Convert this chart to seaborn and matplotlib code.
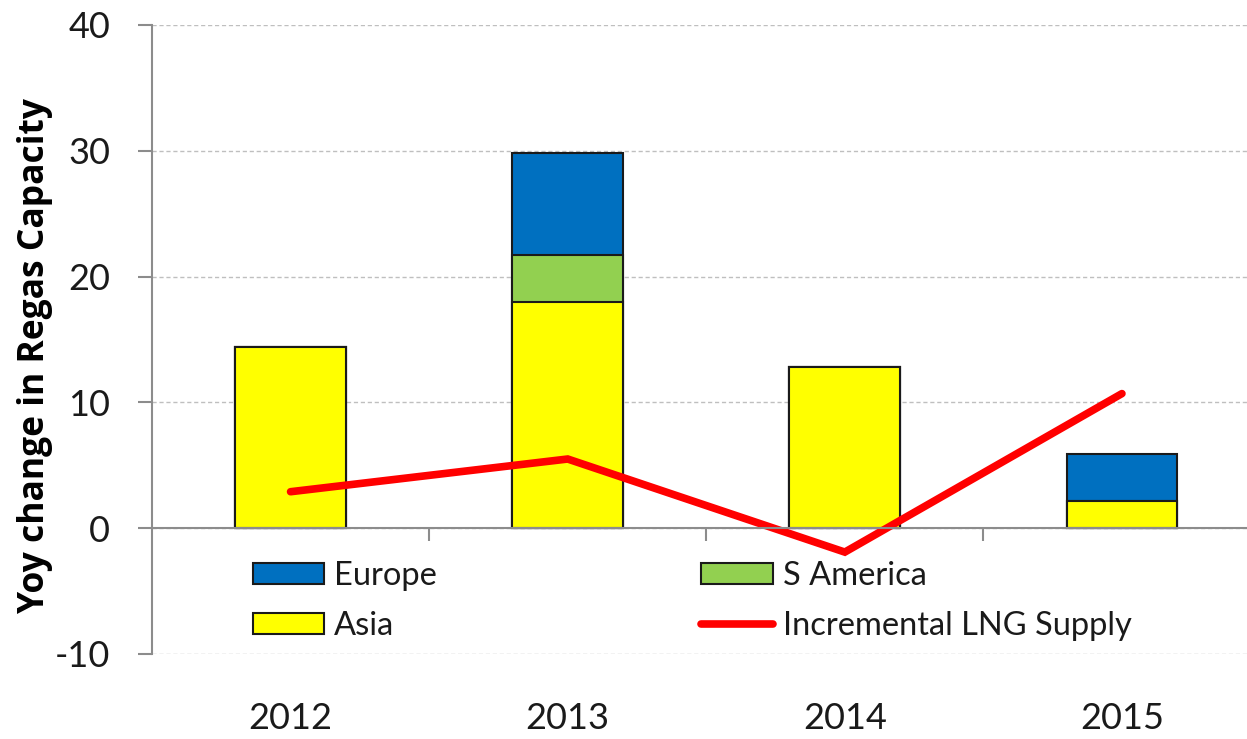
import numpy as np
import pandas as pd
import matplotlib
matplotlib.use("Agg")
import matplotlib.pyplot as plt
import seaborn as sns
from matplotlib.patches import Patch
from matplotlib.lines import Line2D

years = ["2012", "2013", "2014", "2015"]
asia = [14.4, 18.0, 12.8, 2.2]
s_america = [0.0, 3.7, 0.0, 0.0]
europe = [0.0, 8.1, 0.0, 3.7]
lng_supply = [2.9, 5.5, -1.9, 10.7]
yticks = [-10, 0, 10, 20, 30, 40]

c_europe = "#0070C0"
c_sam = "#92D050"
c_asia = "#FFFF00"
c_line = "#FF0000"

sns.set_style("white")
plt.rcParams['font.family'] = ['Lato', 'DejaVu Sans']

df = pd.DataFrame({"year": years, "asia": asia, "sam": s_america, "eur": europe, "lng": lng_supply})
df["lvl2"] = df["asia"] + df["sam"]
df["lvl3"] = df["lvl2"] + df["eur"]

fig = plt.figure(figsize=(12.47, 7.39), dpi=100)
ax = fig.add_axes([152/1247, 1-654/739, 1-152/1247, (654-25)/739])

edge = dict(edgecolor="#1a1a1a", linewidth=1.5)
sns.barplot(data=df, x="year", y="lvl3", color=c_europe, width=0.40, ax=ax, saturation=1, **edge)
sns.barplot(data=df, x="year", y="lvl2", color=c_sam, width=0.40, ax=ax, saturation=1, **edge)
sns.barplot(data=df, x="year", y="asia", color=c_asia, width=0.40, ax=ax, saturation=1, **edge)
sns.lineplot(x=np.arange(len(years)), y=df["lng"], color=c_line, linewidth=5.5, ax=ax,
             solid_capstyle="round", solid_joinstyle="miter")

ax.set_ylim(-10, 40)
ax.set_xlim(-0.5, 3 + (1247 - 1122) / 277)
ax.set_yticks(yticks)
ax.set_yticklabels([str(t) for t in yticks], fontsize=26, color="#1a1a1a")
ax.yaxis.grid(True, linestyle=(0, (3, 2)), color="#bfbfbf", linewidth=1)
ax.set_axisbelow(True)

for s in ["top", "right"]:
    ax.spines[s].set_visible(False)
ax.spines["left"].set_color("#8c8c8c")
ax.spines["left"].set_linewidth(1.5)
ax.spines["bottom"].set_position(("data", 0))
ax.spines["bottom"].set_color("#8c8c8c")
ax.spines["bottom"].set_linewidth(1.5)

ax.tick_params(axis="y", left=True, length=10, width=1.5, color="#8c8c8c", pad=20, direction="out")
ax.set_xticks(range(len(years)))
ax.set_xticklabels(years, fontsize=26, color="#1a1a1a")
ax.set_xticks([0.5, 1.5, 2.5], minor=True)
ax.tick_params(axis="x", which="major", bottom=True, length=0, pad=125)
ax.tick_params(axis="x", which="minor", bottom=True, length=9, width=1.5, color="#8c8c8c", direction="out")
ax.set_xlabel("")
ax.set_ylabel("Yoy change in Regas Capacity", fontsize=25.5, fontweight="bold", color="#000000",
              family=["Open Sans", "DejaVu Sans"])
ax.yaxis.set_label_coords(-0.090, 0.475)

handles = [
    Patch(facecolor=c_europe, edgecolor="#1a1a1a", linewidth=1.5, label="Europe"),
    Patch(facecolor=c_asia, edgecolor="#1a1a1a", linewidth=1.5, label="Asia"),
    Patch(facecolor=c_sam, edgecolor="#1a1a1a", linewidth=1.5, label="S America"),
    Line2D([0], [0], color=c_line, linewidth=5.5, solid_capstyle="round", label="Incremental LNG Supply"),
]
leg = ax.legend(handles=handles, ncol=2, loc="upper left", bbox_to_anchor=(0.065, 0.194),
                frameon=False, fontsize=23.5, handlelength=2.2, handleheight=0.6,
                handletextpad=0.3, columnspacing=8.1, labelspacing=0.6)
for t in leg.get_texts():
    t.set_color("#1a1a1a")

fig.savefig("out.png", dpi=100)
